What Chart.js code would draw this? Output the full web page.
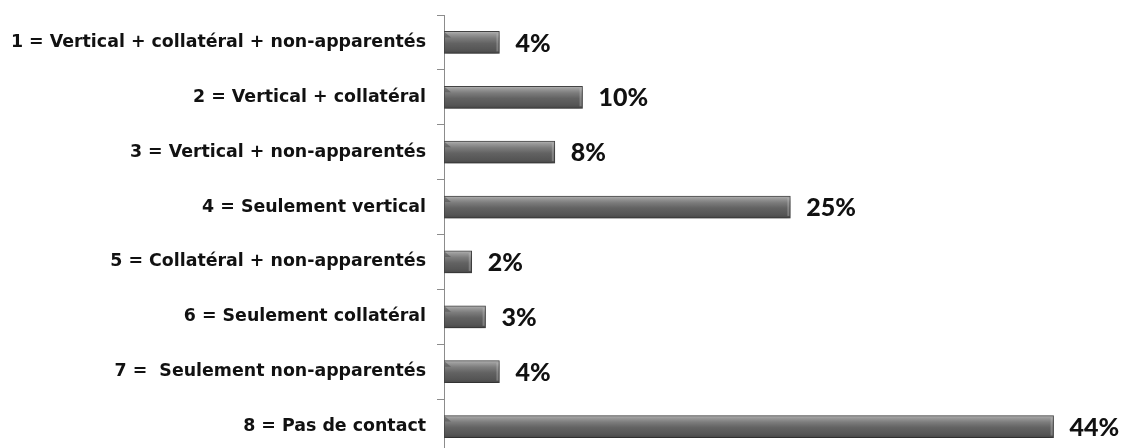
<!DOCTYPE html>
<html>
<head>
<meta charset="utf-8">
<script src="https://cdn.jsdelivr.net/npm/chart.js@4/dist/chart.umd.min.js"></script>
<style>
  html, body { margin: 0; padding: 0; background: #fff; overflow: hidden; }
  #wrap { position: relative; width: 1122px; height: 460px; }
</style>
</head>
<body>
<div id="wrap"><canvas id="c"></canvas></div>
<script>
// Contact types and their share of respondents (%)
const categories = [
  '1 = Vertical + collatéral + non-apparentés',
  '2 = Vertical + collatéral',
  '3 = Vertical + non-apparentés',
  '4 = Seulement vertical',
  '5 = Collatéral + non-apparentés',
  '6 = Seulement collatéral',
  '7 =  Seulement non-apparentés',
  '8 = Pas de contact'
];
const shares = [4, 10, 8, 25, 2, 3, 4, 44];
const valueSuffix = '%';

const BAR_THICKNESS = 22;

// Cylinder-like grey fill, built per bar from its position on the category scale
function barFill(context) {
  const chart = context.chart;
  const yScale = chart.scales && chart.scales.y;
  if (!yScale || yScale.top === undefined) return '#5e5e5e';
  const yc = yScale.getPixelForValue(context.dataIndex);
  const h = BAR_THICKNESS / 2;
  const g = chart.ctx.createLinearGradient(0, yc - h, 0, yc + h);
  g.addColorStop(0.00, '#b8b8b8');
  g.addColorStop(0.10, '#9c9c9c');
  g.addColorStop(0.30, '#7c7c7c');
  g.addColorStop(0.55, '#626262');
  g.addColorStop(0.85, '#555555');
  g.addColorStop(1.00, '#474747');
  return g;
}

// Soft drop shadow under the bars
const barShadow = {
  id: 'barShadow',
  beforeDatasetsDraw(chart) {
    const ctx = chart.ctx;
    ctx.save();
    ctx.shadowColor = 'rgba(0,0,0,0.35)';
    ctx.shadowBlur = 5;
    ctx.shadowOffsetY = 3;
  },
  afterDatasetsDraw(chart) {
    chart.ctx.restore();
  }
};

// Bevelled ends: a darker wedge at the start and a light edge at the end of each bar
const barBevel = {
  id: 'barBevel',
  afterDatasetsDraw(chart) {
    const ctx = chart.ctx;
    const meta = chart.getDatasetMeta(0);
    ctx.save();
    meta.data.forEach((bar) => {
      const left = bar.base, right = bar.x;
      const top = bar.y - BAR_THICKNESS / 2, bottom = bar.y + BAR_THICKNESS / 2;
      const w = Math.min(6, (right - left) / 3);
      ctx.fillStyle = 'rgba(40,40,40,0.35)';
      ctx.beginPath();
      ctx.moveTo(left + 1, top + 1);
      ctx.lineTo(left + 1 + w, top + 6);
      ctx.lineTo(left + 1, top + 6);
      ctx.closePath();
      ctx.fill();
      ctx.fillStyle = 'rgba(200,200,200,0.35)';
      ctx.fillRect(right - 3, top + 2, 2, BAR_THICKNESS - 4);
    });
    ctx.restore();
  }
};

// Value labels to the right of each bar
const valueLabels = {
  id: 'valueLabels',
  afterDatasetsDraw(chart) {
    const ctx = chart.ctx;
    const ds = chart.data.datasets[0];
    const meta = chart.getDatasetMeta(0);
    ctx.save();
    ctx.font = '900 25px Lato';
    ctx.fillStyle = '#111';
    ctx.textAlign = 'left';
    ctx.textBaseline = 'middle';
    meta.data.forEach((bar, i) => {
      ctx.fillText(ds.data[i] + valueSuffix, bar.x + 16, bar.y + 1);
    });
    ctx.restore();
  }
};

new Chart(document.getElementById('c'), {
  type: 'bar',
  data: {
    labels: categories,
    datasets: [{
      data: shares,
      backgroundColor: barFill,
      borderColor: '#444444',
      borderWidth: 1,
      borderSkipped: false,
      barThickness: BAR_THICKNESS
    }]
  },
  options: {
    indexAxis: 'y',
    responsive: true,
    maintainAspectRatio: false,
    animation: false,
    layout: { padding: { top: 15, bottom: 6, left: 0, right: 13 } },
    plugins: {
      legend: { display: false },
      tooltip: { enabled: false }
    },
    scales: {
      x: { display: false, min: 0, max: 48 },
      y: {
        afterFit(scale) {
          scale.width = 444;
          scale.paddingTop = 0;
          scale.paddingBottom = 0;
        },
        grid: {
          display: true,
          drawOnChartArea: false,
          tickLength: 7,
          color: '#8c8c8c',
          lineWidth: 1
        },
        border: { display: true, color: '#8c8c8c', width: 1 },
        ticks: {
          padding: 11,
          color: '#111',
          font: { family: 'DejaVu Sans', weight: 'bold', size: 17.4 }
        }
      }
    }
  },
  plugins: [barShadow, barBevel, valueLabels]
});
</script>
</body>
</html>
